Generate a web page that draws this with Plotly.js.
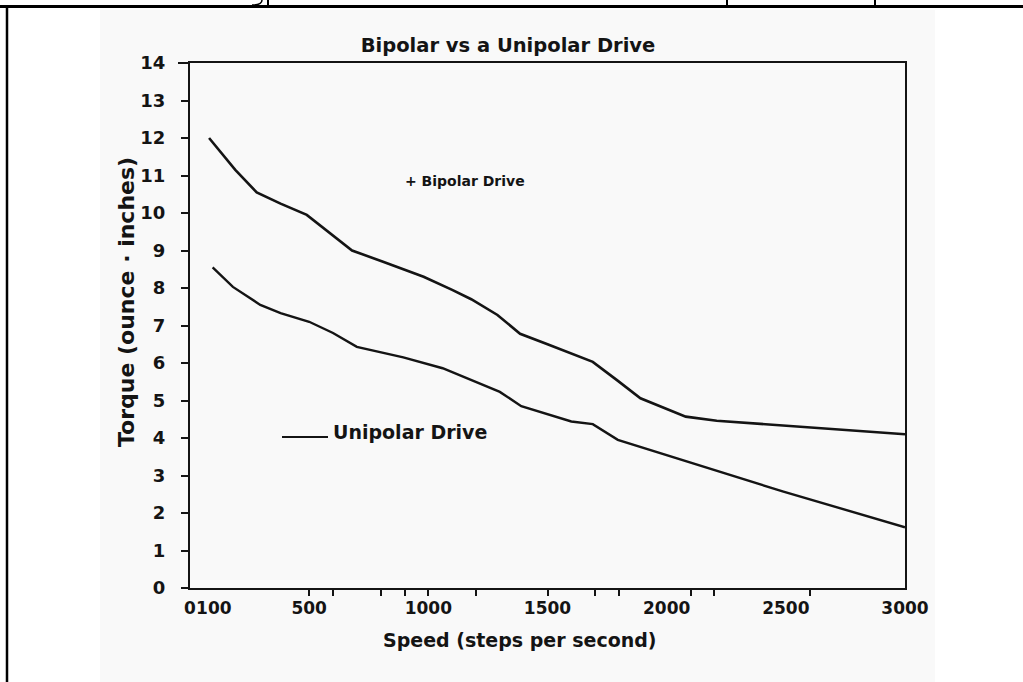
<!DOCTYPE html>
<html>
<head>
<meta charset="utf-8">
<script src="https://cdn.plot.ly/plotly-3.0.1.min.js"></script>
<style>html,body{margin:0;padding:0;background:#fff;}#chart{width:1023px;height:682px;}</style>
</head>
<body>
<div id="chart"></div>
<script>
// ---- data ----
const bipolarSpeed  = [80, 190, 280, 380, 490, 600, 680, 810, 980, 1100, 1180, 1290, 1385, 1500, 1690, 1790, 1890, 2080, 2210, 3000];
const bipolarTorque = [12.0, 11.15, 10.55, 10.25, 9.95, 9.4, 9.0, 8.7, 8.3, 7.95, 7.7, 7.28, 6.78, 6.5, 6.03, 5.55, 5.06, 4.57, 4.46, 4.1];

const unipolarSpeed  = [95, 180, 295, 380, 500, 600, 700, 785, 895, 1060, 1300, 1390, 1600, 1690, 1795, 2490, 3000];
const unipolarTorque = [8.55, 8.03, 7.55, 7.33, 7.1, 6.8, 6.43, 6.3, 6.15, 5.86, 5.23, 4.85, 4.44, 4.37, 3.95, 2.57, 1.62];

const xTickVals  = [0, 100, 500, 1000, 1500, 2000, 2500, 3000];
const xTickText  = ["0", "100", "500", "1000", "1500", "2000", "2500", "3000"];
const xMinorVals = [500, 600, 800, 900, 1000, 1200, 1500, 1700, 1800, 2100, 2200, 2600];
const yTickVals  = [0,1,2,3,4,5,6,7,8,9,10,11,12,13,14];

const titleText  = "Bipolar vs a Unipolar Drive";
const xTitleText = "Speed (steps per second)";
const yTitleText = "Torque (ounce · inches)";
const bipolarLabel  = "+ Bipolar Drive";
const unipolarLabel = "Unipolar Drive";

// ---- layout helpers (pixel -> paper) ----
const L = 190, R = 905, T = 63, B = 588, W = 1023, H = 682;
const px = x => (x - L) / (R - L);
const py = y => (B - y) / (B - T);

const FONT = "DejaVu Sans, Verdana, sans-serif";
const INK = "#141414";
const f = (size) => ({ family: FONT, size: size, color: INK, weight: "bold" });

const traces = [
  { x: bipolarSpeed, y: bipolarTorque, mode: "lines", name: "Bipolar Drive",
    line: { color: INK, width: 2.6 }, hoverinfo: "x+y" },
  { x: unipolarSpeed, y: unipolarTorque, mode: "lines", name: "Unipolar Drive",
    line: { color: INK, width: 2.4 }, hoverinfo: "x+y" }
];

const layout = {
  width: W, height: H,
  margin: { l: L, r: W - R, t: T, b: H - B, pad: 0 },
  paper_bgcolor: "#ffffff",
  plot_bgcolor: "rgba(0,0,0,0)",
  showlegend: false,
  font: f(15),
  title: { text: titleText, font: f(19.5), xref: "container", yref: "container",
           x: 508 / W, xanchor: "center", y: 1 - 45 / H, yanchor: "middle" },
  xaxis: {
    range: [0, 3000], fixedrange: true,
    showline: true, linecolor: INK, linewidth: 2, mirror: true,
    showgrid: false, zeroline: false,
    tickmode: "array", tickvals: xTickVals, ticktext: xTickText, tickangle: 0,
    ticks: "outside", ticklen: 0, tickcolor: INK,
    tickfont: f(17),
    ticklabelstandoff: 4,
    minor: { tickmode: "array", tickvals: xMinorVals, ticks: "outside", ticklen: 6, tickwidth: 2, tickcolor: INK, showgrid: false }
  },
  yaxis: {
    range: [0, 14], fixedrange: true,
    showline: true, linecolor: INK, linewidth: 2, mirror: true,
    showgrid: false, zeroline: false,
    tickmode: "array", tickvals: yTickVals,
    ticks: "outside", ticklen: 7, tickwidth: 2, tickcolor: INK,
    tickfont: f(18),
    ticklabelstandoff: 12
  },
  shapes: [
    // scanned page tone
    { type: "rect", xref: "paper", yref: "paper", layer: "below",
      x0: px(100), x1: px(935), y0: py(682), y1: py(10),
      fillcolor: "#f9f9f9", line: { width: 0 } },
    // page frame (table border of the document)
    { type: "line", xref: "paper", yref: "paper", x0: px(0), x1: px(1023), y0: py(6.5), y1: py(6.5),
      line: { color: "#000", width: 3 } },
    { type: "line", xref: "paper", yref: "paper", x0: px(7), x1: px(7), y0: py(5), y1: py(682),
      line: { color: "#000", width: 2.5 } },
    // cut-off descenders of the text above
    { type: "line", xref: "paper", yref: "paper", x0: px(268), x1: px(268), y0: py(0), y1: py(6),
      line: { color: "#000", width: 2 } },
    { type: "path", xref: "paper", yref: "paper",
      path: `M ${px(262)} ${py(0)} Q ${px(262)} ${py(5)} ${px(252)} ${py(5)}`,
      line: { color: "#000", width: 1.5 } },
    { type: "line", xref: "paper", yref: "paper", x0: px(727), x1: px(727), y0: py(0), y1: py(6),
      line: { color: "#000", width: 2 } },
    { type: "line", xref: "paper", yref: "paper", x0: px(875), x1: px(875), y0: py(0), y1: py(6),
      line: { color: "#000", width: 2 } },
    // top-left stub of frame at 14
    { type: "line", xref: "paper", yref: "paper", x0: px(178), x1: px(190), y0: 1, y1: 1,
      line: { color: INK, width: 2 } },
    // sample line for the Unipolar label
    { type: "line", xref: "paper", yref: "paper", x0: px(282), x1: px(328), y0: py(437), y1: py(437),
      line: { color: INK, width: 2 } }
  ],
  annotations: [
    // axis titles
    { xref: "paper", yref: "paper", x: px(520), y: py(640), xanchor: "center", yanchor: "middle",
      text: xTitleText, showarrow: false, font: f(19) },
    { xref: "paper", yref: "paper", x: px(126), y: py(302), xanchor: "center", yanchor: "middle",
      text: yTitleText, textangle: -90, showarrow: false, font: f(22) },
    // series labels
    { xref: "paper", yref: "paper", x: px(403), y: py(181), xanchor: "left", yanchor: "middle",
      text: bipolarLabel, showarrow: false, font: f(14) },
    { xref: "paper", yref: "paper", x: px(331), y: py(432), xanchor: "left", yanchor: "middle",
      text: unipolarLabel, showarrow: false, font: f(19) }
  ]
};

Plotly.newPlot("chart", traces, layout, { displayModeBar: false, staticPlot: true });
</script>
</body>
</html>
